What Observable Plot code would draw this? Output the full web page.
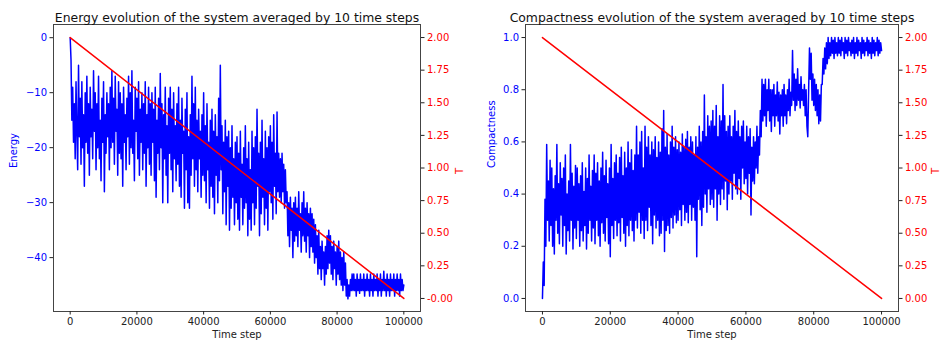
<!DOCTYPE html>
<html>
<head>
<meta charset="utf-8">
<script src="https://cdn.jsdelivr.net/npm/d3@7"></script>
<script src="https://cdn.jsdelivr.net/npm/@observablehq/plot@0.6"></script>
<style>
  html, body { margin: 0; padding: 0; background: white; }
  #wrap { display: flex; flex-direction: row; width: 951px; height: 354px; }
  svg { display: block; }
</style>
</head>
<body>
<div id="wrap"></div>
<script>
// ---- Data ----
const STEP = 250; // time steps between stored samples (sample i is at i*STEP)

const energy = [
  0, -4, -15, -9, -19, -12, -22, -8, -17, -24,
  -5, -18, -11, -23, -8, -20, -14, -27, -10, -19,
  -7, -21, -12, -25, -9, -18, -13, -22, -6, -17,
  -10, -24, -12, -20, -7, -22, -15, -26, -11, -19,
  -8, -28, -14, -21, -10, -18, -12, -24, -9, -20,
  -6, -19, -11, -23, -7, -17, -13, -25, -8, -21,
  -10, -22, -12, -27, -9, -19, -14, -24, -11, -18,
  -7, -23, -10, -20, -6, -21, -15, -26, -9, -17,
  -11, -22, -8, -25, -13, -19, -10, -24, -12, -21,
  -8, -27, -14, -20, -9, -23, -12, -25, -10, -19,
  -13, -26, -9, -29, -15, -21, -11, -24, -6.5, -20,
  -12, -30, -14, -22, -9, -25, -16, -30, -11, -21,
  -9, -24, -13, -28, -10, -22, -16, -26, -12, -23,
  -9, -27, -15, -29, -11, -21, -17, -31, -13, -24,
  -10, -30, -18, -31, -14, -25, -7, -22, -12, -27,
  -9, -24, -15, -28, -13, -22, -17, -29, -14, -25,
  -10, -26, -16, -30, -12, -24, -19, -31, -15, -27,
  -13, -29, -17, -32, -14, -25, -18, -30, -11, -26,
  -5, -24, -16, -32, -19, -28, -15, -34, -18, -27,
  -17, -35, -20, -31, -16, -29, -22, -34, -19, -30,
  -18, -33, -21, -35, -17, -29, -23, -34, -20, -31,
  -16, -30, -22, -36, -19, -33, -24, -35, -17, -30,
  -20, -34, -18, -31, -13, -27, -21, -36, -19, -32,
  -15, -29, -22, -34, -17, -31, -20, -35, -18, -28,
  -16, -30, -19, -33, -14, -27, -21, -32, -13.5, -28,
  -21, -29, -22, -30, -21, -28, -23, -31, -24, -30,
  -28, -36, -30, -38, -29, -35, -31, -40, -30, -37,
  -29, -36, -31, -38, -28, -35, -32, -39, -30, -36,
  -28, -37, -31, -39, -30, -36, -32, -40, -31, -38,
  -32, -39, -33, -41, -34, -40, -36, -43, -35, -42,
  -38, -44, -37, -42, -39, -45, -38, -43, -36, -42,
  -35, -41, -36, -43, -38, -44, -37, -42, -39, -45,
  -38, -43, -37, -44, -39, -45, -40, -46, -39, -45,
  -41, -47, -44, -47.5, -45, -47, -44, -46, -43, -46,
  -43, -46, -44, -47, -43, -46, -44, -46.5, -43, -46,
  -44, -46, -43, -47, -44, -46, -43, -46, -44, -47,
  -43, -46, -44, -47, -43, -46, -44, -46, -43, -47,
  -44, -46, -43, -47, -44, -46, -42.5, -46, -44, -47,
  -43, -46, -44, -47, -43, -46, -44, -46, -43, -47,
  -44, -46, -43, -46, -44, -47, -43, -46, -44, -46,
  -45
];

const compactness = [
  0, 0.14, 0.05, 0.38, 0.2, 0.59, 0.3, 0.45, 0.22, 0.53,
  0.28, 0.5, 0.2, 0.42, 0.17, 0.47, 0.3, 0.59, 0.25, 0.44,
  0.21, 0.52, 0.32, 0.46, 0.2, 0.5, 0.28, 0.55, 0.17, 0.4,
  0.26, 0.45, 0.22, 0.59, 0.3, 0.48, 0.19, 0.43, 0.27, 0.51,
  0.23, 0.5, 0.3, 0.44, 0.2, 0.47, 0.26, 0.52, 0.22, 0.41,
  0.28, 0.5, 0.19, 0.46, 0.25, 0.55, 0.3, 0.43, 0.22, 0.49,
  0.27, 0.55, 0.21, 0.48, 0.3, 0.52, 0.24, 0.45, 0.2, 0.5,
  0.29, 0.56, 0.25, 0.47, 0.22, 0.53, 0.31, 0.44, 0.21, 0.5,
  0.16, 0.59, 0.28, 0.46, 0.23, 0.52, 0.3, 0.55, 0.24, 0.48,
  0.29, 0.54, 0.22, 0.58, 0.31, 0.47, 0.25, 0.56, 0.2, 0.5,
  0.28, 0.6, 0.24, 0.52, 0.3, 0.57, 0.26, 0.49, 0.22, 0.55,
  0.3, 0.66, 0.27, 0.55, 0.33, 0.6, 0.25, 0.64, 0.3, 0.5,
  0.23, 0.66, 0.3, 0.58, 0.26, 0.62, 0.35, 0.55, 0.28, 0.6,
  0.21, 0.57, 0.32, 0.62, 0.27, 0.54, 0.3, 0.6, 0.24, 0.56,
  0.25, 0.65, 0.3, 0.72, 0.18, 0.58, 0.26, 0.63, 0.28, 0.55,
  0.25, 0.6, 0.31, 0.66, 0.27, 0.58, 0.32, 0.62, 0.29, 0.57,
  0.3, 0.6, 0.34, 0.56, 0.28, 0.63, 0.36, 0.58, 0.3, 0.61,
  0.33, 0.64, 0.29, 0.58, 0.36, 0.62, 0.3, 0.6, 0.35, 0.55,
  0.3, 0.62, 0.16, 0.58, 0.38, 0.66, 0.34, 0.6, 0.28, 0.64,
  0.35, 0.78, 0.4, 0.62, 0.33, 0.7, 0.42, 0.66, 0.36, 0.68,
  0.38, 0.72, 0.35, 0.66, 0.42, 0.74, 0.3, 0.62, 0.4, 0.7,
  0.36, 0.68, 0.42, 0.82, 0.38, 0.7, 0.45, 0.64, 0.34, 0.66,
  0.4, 0.7, 0.45, 0.62, 0.38, 0.66, 0.48, 0.72, 0.42, 0.64,
  0.4, 0.68, 0.46, 0.62, 0.38, 0.66, 0.5, 0.68, 0.44, 0.6,
  0.46, 0.66, 0.4, 0.62, 0.48, 0.65, 0.32, 0.58, 0.45, 0.62,
  0.44, 0.6, 0.5, 0.66, 0.48, 0.62, 0.55, 0.72, 0.62, 0.84,
  0.68, 0.82, 0.7, 0.84, 0.66, 0.8, 0.72, 0.84, 0.68, 0.8,
  0.64, 0.8, 0.7, 0.82, 0.66, 0.78, 0.7, 0.83, 0.68, 0.79,
  0.63, 0.78, 0.7, 0.8, 0.66, 0.82, 0.7, 0.78, 0.67, 0.8,
  0.72, 0.84, 0.7, 0.79, 0.74, 0.95, 0.76, 0.86, 0.72, 0.84,
  0.74, 0.88, 0.76, 0.82, 0.73, 0.85, 0.76, 0.8, 0.74, 0.82,
  0.7, 0.8, 0.66, 0.62, 0.8, 0.96, 0.84, 0.94, 0.76, 0.86,
  0.74, 0.84, 0.72, 0.82, 0.7, 0.8, 0.67, 0.78, 0.68, 0.82,
  0.82, 0.92, 0.86, 0.96, 0.88, 0.98, 0.9, 1.0, 0.92, 0.98,
  0.93, 1.0, 0.94, 0.99, 0.92, 1.0, 0.94, 0.98, 0.93, 1.0,
  0.94, 0.99, 0.93, 1.0, 0.95, 0.98, 0.92, 1.0, 0.94, 0.99,
  0.93, 1.0, 0.95, 0.98, 0.93, 0.99, 0.94, 1.0, 0.92, 0.98,
  0.94, 1.0, 0.93, 0.99, 0.95, 0.98, 0.92, 1.0, 0.94, 0.99,
  0.93, 0.98, 0.95, 1.0, 0.93, 0.99, 0.94, 0.98, 0.92, 1.0,
  0.94, 0.99, 0.93, 0.98, 0.95, 1.0, 0.93, 0.99, 0.94, 0.98,
  0.95
];

// Temperature schedule (linear annealing)
const tSteps = [0, 100000];
const tValues = [2.0, 0.0];

// Tick labels
const xTicks = [0, 20000, 40000, 60000, 80000, 100000];
const energyTicks = [0, -10, -20, -30, -40];
const compactTicks = [0.0, 0.2, 0.4, 0.6, 0.8, 1.0];
const tTicks = [0.0, 0.25, 0.5, 0.75, 1.0, 1.25, 1.5, 1.75, 2.0];

const titles = [
  "Energy evolution of the system averaged by 10 time steps",
  "Compactness evolution of the system averaged by 10 time steps"
];

// ---- Drawing ----
const FONT = "DejaVu Sans, sans-serif";
const tDomain = [-0.1, 2.1];

function panel({values, yDomain, yTicks, yFormat, yLabel, title, width, ml, mr, yLabelDx, tLabelDx}) {
  const tToY = d3.scaleLinear(tDomain, yDomain);
  const idx = d3.range(values.length);
  const tData = tSteps.map((s, i) => ({s, T: tValues[i]}));
  return Plot.plot({
    width, height: 354,
    marginLeft: ml, marginRight: mr, marginTop: 24, marginBottom: 43,
    style: {fontFamily: FONT, fontSize: "10px", background: "white", color: "#222"},
    x: {domain: [-5000, 105000]},
    y: {domain: yDomain},
    marks: [
      Plot.line(idx, {x: i => i * STEP, y: i => values[i], stroke: "blue", strokeWidth: 1.5, curve: "linear"}),
      Plot.line(tData, {x: "s", y: d => tToY(d.T), stroke: "red", strokeWidth: 1.5}),
      Plot.frame({stroke: "#444", strokeWidth: 1}),
      Plot.axisX({ticks: xTicks, tickFormat: d => String(d), tickSize: 3.5, tickPadding: 3, label: null, stroke: "#222", fill: "#222", fontSize: 10}),
      Plot.axisY({anchor: "left", ticks: yTicks, tickFormat: yFormat, tickSize: 3.5, tickPadding: 3, label: null, stroke: "#222", fill: "blue", fontSize: 10}),
      Plot.axisY({anchor: "right", ticks: tTicks.map(t => tToY(t)), tickFormat: v => tToY.invert(v).toFixed(2), tickSize: 3.5, tickPadding: 3, label: null, stroke: "#222", fill: "red", fontSize: 10}),
      Plot.text([title], {frameAnchor: "top", dy: -11, fontSize: 12.4, fill: "#111"}),
      Plot.text(["Time step"], {frameAnchor: "bottom", dy: 26, fontSize: 10, fill: "#222"}),
      Plot.text([yLabel], {frameAnchor: "left", dx: yLabelDx, rotate: -90, fontSize: 10, fill: "blue"}),
      Plot.text(["T"], {frameAnchor: "right", dx: tLabelDx, rotate: -90, fontSize: 10, fill: "red"})
    ]
  });
}

const wrap = document.getElementById("wrap");
wrap.appendChild(panel({
  values: energy, yDomain: [-49.8, 2.4], yTicks: energyTicks,
  yFormat: d => d < 0 ? "\u2212" + Math.abs(d) : String(d),
  yLabel: "Energy", title: titles[0], width: 476, ml: 53, mr: 56, yLabelDx: -40, tLabelDx: 39
}));
wrap.appendChild(panel({
  values: compactness, yDomain: [-0.05, 1.05], yTicks: compactTicks,
  yFormat: d => d.toFixed(1),
  yLabel: "Compactness", title: titles[1], width: 475, ml: 49, mr: 53, yLabelDx: -34, tLabelDx: 37
}));
</script>
</body>
</html>
